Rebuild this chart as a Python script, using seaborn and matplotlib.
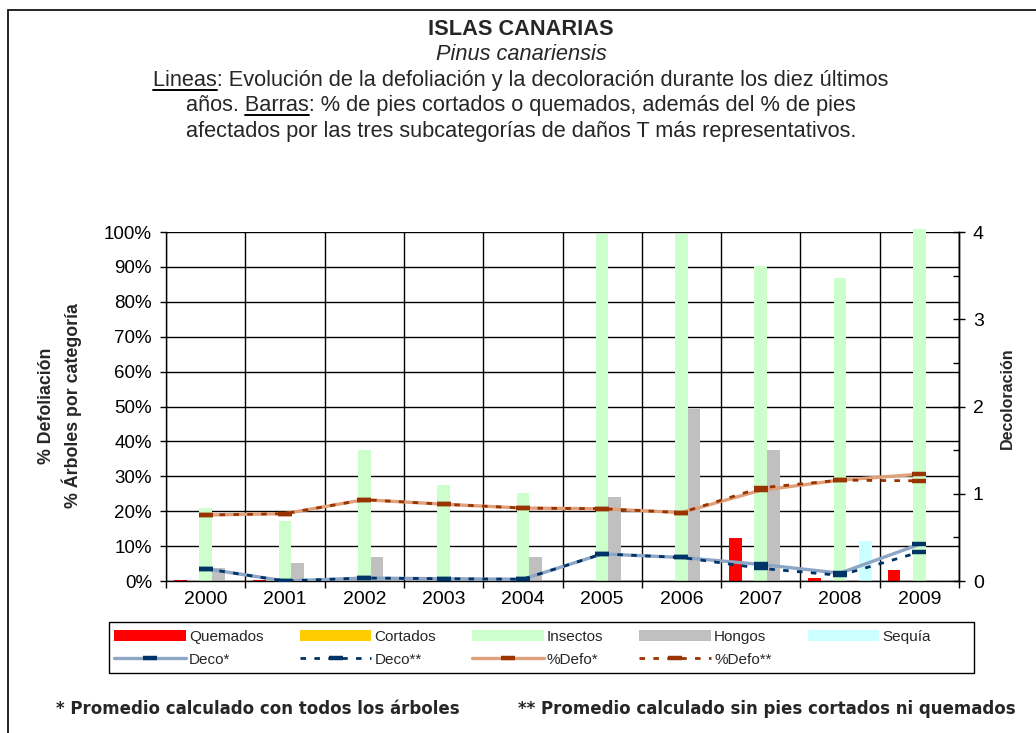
import numpy as np
import pandas as pd
import matplotlib
matplotlib.use("Agg")
import matplotlib.pyplot as plt
import seaborn as sns
from matplotlib.patches import Patch, Rectangle
from matplotlib.lines import Line2D
from matplotlib.ticker import FixedLocator, MultipleLocator, FuncFormatter

# ---------------- data ----------------
years = ["2000", "2001", "2002", "2003", "2004", "2005", "2006", "2007", "2008", "2009"]
quemados = [0.4, 0.4, 0.0, 0.0, 0.0, 0.0, 0.0, 12.3, 0.9, 3.1]
cortados = [0.0, 0.0, 0.0, 0.0, 0.0, 0.0, 0.0, 0.0, 0.0, 0.0]
insectos = [20.9, 17.1, 37.4, 27.4, 25.1, 99.5, 99.5, 90.3, 86.9, 101.0]
hongos = [3.7, 5.1, 6.9, 0.0, 6.9, 24.0, 49.4, 37.4, 0.3, 0.3]
sequia = [0.0, 0.0, 0.0, 0.0, 0.0, 0.0, 0.0, 0.0, 11.4, 0.0]
deco_all = [0.14, 0.0, 0.034, 0.026, 0.02, 0.31, 0.27, 0.19, 0.09, 0.42]
deco_sin = [0.14, 0.0, 0.034, 0.026, 0.02, 0.31, 0.27, 0.145, 0.065, 0.33]
defo_all = [18.9, 19.3, 23.3, 22.0, 20.9, 20.7, 19.6, 26.0, 28.9, 30.6]
defo_sin = [18.9, 19.3, 23.3, 22.0, 20.9, 20.7, 19.6, 26.7, 28.9, 28.7]

bar_cats = ["Quemados", "Cortados", "Insectos", "Hongos", "Sequía"]
bar_colors = ["#FF0000", "#FFCC00", "#CCFFCC", "#C0C0C0", "#CCFFFF"]
left_ticks = [0, 10, 20, 30, 40, 50, 60, 70, 80, 90, 100]
right_ticks = [0, 1, 2, 3, 4]

title_lines = [
    "ISLAS CANARIAS",
    "Pinus canariensis",
    "Lineas: Evolución de la defoliación y la decoloración durante los diez últimos",
    "años. Barras: % de pies cortados o quemados, además del % de pies",
    "afectados por las tres subcategorías de daños T más representativos.",
]
foot1 = "* Promedio calculado con todos los árboles"
foot2 = "** Promedio calculado sin pies cortados ni quemados"

# ---------------- style ----------------
sns.set_theme(style="white")
plt.rcParams["font.family"] = ["Liberation Sans", "DejaVu Sans"]
plt.rcParams["axes.unicode_minus"] = False

W, H = 1036, 733
fig = plt.figure(figsize=(W / 100, H / 100), dpi=100)
fig.patch.set_facecolor("white")

def fx(px):
    return px / W

def fy(py):
    return 1 - py / H

ax = fig.add_axes([fx(166), fy(581), fx(959) - fx(166), fy(232) - fy(581)])
ax.set_facecolor("white")

df = pd.DataFrame({
    "Año": np.tile(years, len(bar_cats)),
    "Categoría": np.repeat(bar_cats, len(years)),
    "Valor": np.concatenate([quemados, cortados, insectos, hongos, sequia]),
})
sns.barplot(data=df, x="Año", y="Valor", hue="Categoría", hue_order=bar_cats,
            palette=bar_colors, width=0.8, gap=0, saturation=1, errorbar=None,
            legend=False, ax=ax, zorder=2)
for p in ax.patches:
    p.set_clip_on(False)
    p.set_linewidth(0)

defo_line_col = "#E0A07C"
defo_mk_col = "#993300"
deco_line_col = "#8DA6C6"
deco_mk_col = "#003366"

sns.pointplot(x=years, y=defo_all, ax=ax, color=defo_line_col, errorbar=None,
              markers="_", linewidth=2.4, markersize=10, markeredgewidth=3.2,
              markeredgecolor=defo_mk_col, zorder=4)
sns.pointplot(x=years, y=defo_sin, ax=ax, color=defo_mk_col, errorbar=None,
              markers="_", linewidth=2.0, linestyle=(0, (2, 3)), markersize=10,
              markeredgewidth=3.2, markeredgecolor=defo_mk_col, zorder=5)

ax2 = ax.twinx()
sns.pointplot(x=years, y=deco_all, ax=ax2, color=deco_line_col, errorbar=None,
              markers="_", linewidth=2.4, markersize=10, markeredgewidth=3.2,
              markeredgecolor=deco_mk_col, zorder=4)
sns.pointplot(x=years, y=deco_sin, ax=ax2, color=deco_mk_col, errorbar=None,
              markers="_", linewidth=2.0, linestyle=(0, (2, 3)), markersize=10,
              markeredgewidth=3.2, markeredgecolor=deco_mk_col, zorder=5)

# ---------------- axes ----------------
ax.set_xlim(-0.5, len(years) - 0.5)
ax.set_ylim(0, 100)
ax2.set_ylim(0, 4)
ax.set_xlabel("")
ax.set_ylabel("")
ax2.set_xlabel("")
ax2.set_ylabel("")

ax.set_yticks(left_ticks)
ax.yaxis.set_major_formatter(FuncFormatter(lambda v, p: f"{v:.0f}%"))
ax.set_xticks(range(len(years)))
ax.set_xticklabels(years)
ax.xaxis.set_minor_locator(FixedLocator(np.arange(-0.5, len(years), 1.0)))
ax.set_axisbelow(True)
ax.grid(False)
ax.grid(which="major", axis="y", color="black", linewidth=1.0)
ax.grid(which="minor", axis="x", color="black", linewidth=1.0)

ax.tick_params(axis="x", which="major", length=0, pad=7, labelsize=14, labelcolor="black")
ax.tick_params(axis="x", which="minor", length=5, width=1, direction="out", color="black", bottom=True)
ax.tick_params(axis="y", which="major", length=4, width=1, direction="out", color="black",
               pad=6, labelsize=13.5, labelcolor="black", left=True)

ax2.set_yticks(right_ticks)
ax2.yaxis.set_minor_locator(MultipleLocator(0.5))
ax2.tick_params(axis="y", which="major", length=8, width=1, direction="inout", color="black",
                pad=6, labelsize=14, labelcolor="black", right=True)
ax2.tick_params(axis="y", which="minor", length=4, width=1, direction="in", color="black", right=True)
ax2.grid(False)

for a in (ax, ax2):
    for s in a.spines.values():
        s.set_color("black")
        s.set_linewidth(1.0)
    a.spines["top"].set_visible(False)
ax2.spines["left"].set_visible(False)
ax2.spines["bottom"].set_visible(False)

# ---------------- axis titles ----------------
fig.text(fx(60), fy(406), "% Defoliación\n% Árboles por categoría", rotation=90,
         ha="center", va="center", fontsize=12.8, fontweight="bold", linespacing=1.45,
         multialignment="center")
fig.text(fx(1007), fy(398), "Decoloración", rotation=90, ha="center", va="center",
         fontsize=11.5, fontweight="bold")

# ---------------- title block ----------------
tx = fx(521)
baselines = [35, 60, 86, 111.5, 137]
tsize = 15.7
fig.text(tx, fy(baselines[0]), title_lines[0], ha="center", va="baseline",
         fontsize=tsize, fontweight="bold")
fig.text(tx, fy(baselines[1]), title_lines[1], ha="center", va="baseline",
         fontsize=tsize, fontstyle="italic")
t3 = fig.text(tx, fy(baselines[2]), title_lines[2], ha="center", va="baseline", fontsize=tsize)
t4 = fig.text(tx, fy(baselines[3]), title_lines[3], ha="center", va="baseline", fontsize=tsize)
fig.text(tx, fy(baselines[4]), title_lines[4], ha="center", va="baseline", fontsize=tsize)

fig.canvas.draw()
rend = fig.canvas.get_renderer()

def text_width(s):
    tmp = fig.text(0, 0, s, fontsize=tsize)
    w = tmp.get_window_extent(rend).width
    tmp.remove()
    return w

def underline(tobj, prefix, word, base_py):
    bb = tobj.get_window_extent(rend)
    x0 = bb.x0 + text_width(prefix)
    x1 = x0 + text_width(word)
    y = fy(base_py + 3.5)
    fig.add_artist(Line2D([x0 / W, x1 / W], [y, y], color="black", lw=1.4,
                          transform=fig.transFigure))

underline(t3, "", "Lineas", baselines[2])
underline(t4, "años. ", "Barras", baselines[3])

# ---------------- legend ----------------
mk = dict(marker="_", markersize=10, markeredgewidth=3.2)
h_q = Patch(facecolor=bar_colors[0], edgecolor="none", label="Quemados")
h_c = Patch(facecolor=bar_colors[1], edgecolor="none", label="Cortados")
h_i = Patch(facecolor=bar_colors[2], edgecolor="none", label="Insectos")
h_h = Patch(facecolor=bar_colors[3], edgecolor="none", label="Hongos")
h_s = Patch(facecolor=bar_colors[4], edgecolor="none", label="Sequía")
h_d1 = Line2D([], [], color=deco_line_col, lw=2.4, markeredgecolor=deco_mk_col, label="Deco*", **mk)
h_d2 = Line2D([], [], color=deco_mk_col, lw=2.0, linestyle=(0, (2, 3)), markeredgecolor=deco_mk_col, label="Deco**", **mk)
h_f1 = Line2D([], [], color=defo_line_col, lw=2.4, markeredgecolor=defo_mk_col, label="%Defo*", **mk)
h_f2 = Line2D([], [], color=defo_mk_col, lw=2.0, linestyle=(0, (2, 3)), markeredgecolor=defo_mk_col, label="%Defo**", **mk)
handles = [h_q, h_d1, h_c, h_d2, h_i, h_f1, h_h, h_f2, h_s]
leg = fig.legend(handles=handles, labels=[h.get_label() for h in handles], ncol=5,
                 loc="upper left", bbox_to_anchor=(fx(109), fy(624.5)),
                 bbox_transform=fig.transFigure, fontsize=11, frameon=False,
                 handlelength=4.7, handleheight=0.7, handletextpad=0.2,
                 labelspacing=0.58, borderpad=0.35, borderaxespad=0, columnspacing=2.35)
fig.add_artist(Rectangle((fx(109), fy(673)), fx(974) - fx(109), fy(622) - fy(673),
                         transform=fig.transFigure, fill=False, edgecolor="black",
                         linewidth=1.0))

# ---------------- footnotes ----------------
fig.text(fx(56), fy(709), foot1, ha="left", va="center", fontsize=12,
         fontweight="bold", family="DejaVu Sans")
fig.text(fx(518), fy(709), foot2, ha="left", va="center", fontsize=12,
         fontweight="bold", family="DejaVu Sans")

# ---------------- outer frame ----------------
fig.add_artist(Rectangle((fx(8), -0.1), 1.2, fy(10) + 0.1, transform=fig.transFigure,
                         fill=False, edgecolor="black", linewidth=1.2, clip_on=False))

fig.savefig("out.png", dpi=100)
